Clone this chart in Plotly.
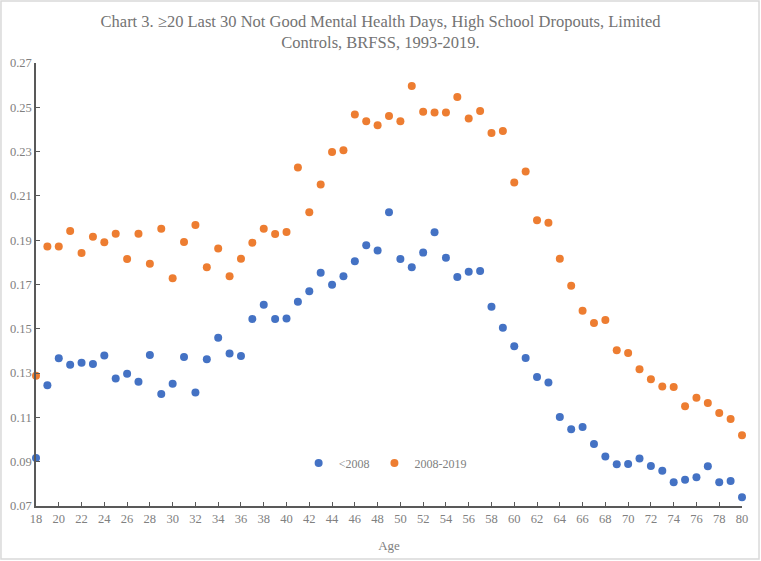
import plotly.graph_objects as go

ages = list(range(18, 81))

before_2008 = [0.0917, 0.1245, 0.1367, 0.1338, 0.1347, 0.1341, 0.1379, 0.1276, 0.1297, 0.1261,
               0.1382, 0.1206, 0.1252, 0.1373, 0.1212, 0.1362, 0.1460, 0.1388, 0.1377, 0.1544,
               0.1609, 0.1544, 0.1546, 0.1622, 0.1670, 0.1753, 0.1699, 0.1737, 0.1805, 0.1877,
               0.1854, 0.2026, 0.1815, 0.1778, 0.1844, 0.1936, 0.1821, 0.1734, 0.1758, 0.1761,
               0.1600, 0.1505, 0.1421, 0.1368, 0.1282, 0.1258, 0.1102, 0.1046, 0.1057, 0.0980,
               0.0924, 0.0888, 0.0890, 0.0915, 0.0881, 0.0859, 0.0807, 0.0819, 0.0830, 0.0879,
               0.0807, 0.0813, 0.0739]

y2008_2019 = [0.1288, 0.1872, 0.1872, 0.1942, 0.1842, 0.1916, 0.1891, 0.1929, 0.1815, 0.1929,
              0.1794, 0.1952, 0.1728, 0.1892, 0.1969, 0.1778, 0.1863, 0.1737, 0.1816, 0.1889,
              0.1952, 0.1928, 0.1937, 0.2228, 0.2026, 0.2151, 0.2298, 0.2306, 0.2468, 0.2437,
              0.2419, 0.2461, 0.2437, 0.2596, 0.2480, 0.2477, 0.2477, 0.2547, 0.2449, 0.2483,
              0.2384, 0.2393, 0.2160, 0.2210, 0.1990, 0.1979, 0.1816, 0.1694, 0.1582, 0.1526,
              0.1540, 0.1403, 0.1391, 0.1317, 0.1272, 0.1239, 0.1237, 0.1150, 0.1189, 0.1165,
              0.1120, 0.1093, 0.1019]

y_ticks = [0.07, 0.09, 0.11, 0.13, 0.15, 0.17, 0.19, 0.21, 0.23, 0.25, 0.27]
x_ticks = list(range(18, 81, 2))

FONT = "Liberation Serif, Times New Roman, serif"
AXIS = "#595959"
LABEL = "#808080"

fig = go.Figure()
fig.add_trace(go.Scatter(x=ages, y=before_2008, mode="markers", name="<2008",
                         marker=dict(color="#4472C4", size=8)))
fig.add_trace(go.Scatter(x=ages, y=y2008_2019, mode="markers", name="2008-2019",
                         marker=dict(color="#ED7D31", size=8)))

fig.update_layout(
    width=761, height=561,
    margin=dict(l=36, r=19, t=63, b=55, autoexpand=False),
    paper_bgcolor="white", plot_bgcolor="white",
    font=dict(family=FONT, color=LABEL, size=12),
    title=dict(text="Chart 3. ≥20 Last 30 Not Good Mental Health Days, High School Dropouts, Limited<br>Controls, BRFSS, 1993-2019.",
               x=0.5, xanchor="center", y=0.9525, yanchor="top",
               font=dict(family=FONT, size=16.5, color="#737373")),
    legend=dict(orientation="h", x=0.372, y=0.097, xanchor="left", yanchor="middle",
                font=dict(family=FONT, size=12, color=LABEL),
                itemwidth=30, tracegroupgap=0,
                bgcolor="rgba(0,0,0,0)"),
    showlegend=True,
)

fig.update_xaxes(range=[18, 80], tickvals=x_ticks, ticktext=[str(t) for t in x_ticks],
                 showline=True, linecolor=AXIS, linewidth=1.5, showgrid=False, zeroline=False,
                 ticks="inside", ticklen=4, tickcolor=AXIS, tickwidth=1, automargin=False,
                 tickfont=dict(family=FONT, size=12.5, color=LABEL),
                 title=dict(text="Age", font=dict(family=FONT, size=13, color=LABEL), standoff=16))
fig.update_yaxes(range=[0.07, 0.27], tickvals=y_ticks, ticktext=[f"{t:.2f}" for t in y_ticks],
                 showline=True, linecolor=AXIS, linewidth=1.5, showgrid=False, zeroline=False,
                 ticks="inside", ticklen=4, tickcolor=AXIS, tickwidth=1, automargin=False,
                 tickfont=dict(family=FONT, size=12.5, color=LABEL))

fig.update_traces(cliponaxis=False)

fig.add_shape(type="rect", xref="paper", yref="paper",
              x0=-0.0496, x1=1.0241, y0=-0.1196, y1=1.140,
              line=dict(color="#d9d9d9", width=1.5), fillcolor="rgba(0,0,0,0)", layer="below")

fig.write_html("out.html", config={"displayModeBar": False},
               post_script="document.body.style.margin='0';document.body.style.padding='0';")
